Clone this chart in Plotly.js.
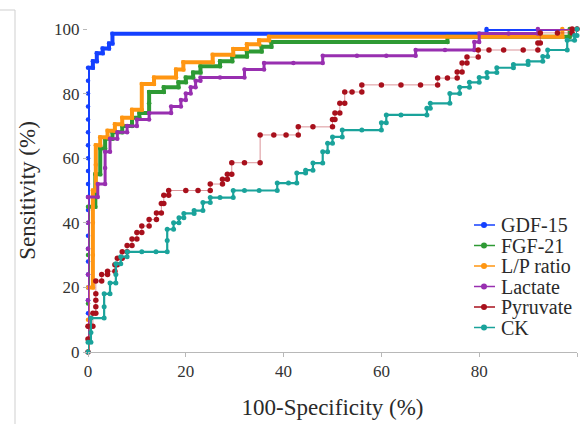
<!DOCTYPE html>
<html>
<head>
<meta charset="utf-8">
<script src="https://cdn.plot.ly/plotly-3.0.1.min.js"></script>
<style>html,body{margin:0;padding:0;background:#fff;}#chart{width:586px;height:424px;}</style>
</head>
<body>
<div id="chart"></div>
<script>
// ---- data ----
const seriesNames = ["GDF-15", "FGF-21", "L/P ratio", "Lactate", "Pyruvate", "CK"];
const xTickVals = [0, 20, 40, 60, 80, 100];
const yTickVals = [0, 20, 40, 60, 80, 100];

const gdfX = [0,0,0,0,0,0,0,0,0,0,0,0,0,0,0,0,0,0,0,0,0,0,0,1,1,1.8,1.8,3,3,4.3,4.3,5,5,81.5,81.5,100];
const gdfY = [0,4,8,12,16,20,24,28,32,36,40,44,48,52,56,60,64,68,72,76,80,84,88,88,90,90,92.5,92.5,94,94,95.5,95.5,98.5,98.5,100,100];

const fgfX = [0,0,0,0,1.5,1.5,2.5,2.5,3.5,3.5,5,5,7,7,9,9,10.5,10.5,12.5,12.5,12.5,15.5,15.5,18.5,18.5,20,20,21.5,21.5,23,23,27,27,29.5,29.5,32.5,32.5,35.5,35.5,37.5,37.5,73.5,73.5,98.5,98.5,100];
const fgfY = [0,15,30,45,45,55,55,63,63,66,66,68,68,70,70,72.5,72.5,74,74,77,80.5,80.5,82,82,83.5,83.5,85,85,86.5,86.5,88.5,88.5,90,90,91.5,91.5,93,93,94.5,94.5,96,96,97.6,97.6,100,100];

const lpX = [0,0,0,1,1,1,1,1.6,1.6,1.6,2.5,2.5,4,4,5.5,5.5,7,7,9,9,11,11,13.5,13.5,18,18,19.5,19.5,25.5,25.5,29.7,29.7,32.5,32.5,35,35,37,37,97,97,100];
const lpY = [0,10,20,20,30,40,50,50,58,64,64,66.5,66.5,68.5,68.5,70.5,70.5,72.5,72.5,75,75,83,83,85,85,87.5,87.5,89.7,89.7,92,92,93.8,93.8,95.3,95.3,96.5,96.5,97.6,97.6,100,100];

const lacX = [0,0,0,0,0,0,0,2,2,3.5,3.5,3.5,4.5,4.5,6,6,8,8,10,10,12.5,12.5,17,17,19,19,20,20,21,21,22,22,23,23,27,32,32,36,36,42,48,48,55,61,67,67,73,79,79,80,80,86,92,92,100];
const lacY = [0,8,16,24,32,40,48,48,52,52,57,62,62,66,66,68,68,70,70,72,72,74,74,76,76,78,78,80,80,82,82,84,84,85,85,85,87.5,87.5,89.5,89.5,89.5,91.7,91.7,91.7,91.7,93.5,93.5,93.5,96,96,98.6,98.6,98.6,100,100];

const pyrX = [0,0,0,1,1,1.6,1.6,1.6,1.6,1.6,2.8,2.8,4,4,5.5,5.5,6,6,7,7,8,8,9,9,10,10,11,11,12.5,12.5,14,14,15,15,15.5,15.5,16.5,16.5,20,22.5,25,25,27.5,27.5,28.5,28.5,29.4,29.4,32,35.2,35.2,38,40.5,43,43,46,50,50,50.5,50.5,51.5,51.5,52.5,52.5,54,56,56,60,64,68,71.5,71.5,73.5,75.5,75.5,76.5,76.5,77.5,77.5,79.8,79.8,82,85,89,92,92,92.5,92.5,96,99,99,100];
const pyrY = [0,4,8,8,12,12,14,16,18,22,22,24,24,25,25,27,27,29,29,31,31,33,33,35,35,37,37,39,39,41,41,43,43,46,46,48.5,48.5,50,50,50,50,52,52,53.5,53.5,55,55,58.6,58.6,58.6,67.2,67.2,67.2,67.2,69.7,69.7,69.7,72,72,74,74,77,77,80.5,80.5,80.5,82.7,82.7,82.7,82.7,82.7,84.8,84.8,84.8,86.7,86.7,89.5,89.5,91.3,91.3,93.5,93.5,93.5,93.5,93.5,95.7,95.7,98.8,98.8,98.8,100,100];

const ckX = [0,0,0.6,0.6,0.6,3.3,3.3,3.3,4.5,4.5,5.7,5.7,5.7,6.7,6.7,8,8,11,13.9,16.2,16.2,16.2,17.5,17.5,18.6,18.6,19.6,19.6,21.7,21.7,23.5,23.5,25,25,27,29.7,29.7,32,35,38.7,38.7,41,42.7,42.7,44.5,44.5,46,46,48,48,49,49,50,50,52,52,56,60,60,61,61,64,69.3,69.3,70,70,74,74,76,76,78,78,80,80,81.6,81.6,83.6,83.6,87,87,90,90,93,93,94,94,98,98,99.5,99.5,100,100];
const ckY = [0,3,3,6,10.5,10.5,14,18,18,21.4,21.4,24,27.3,27.3,29.5,29.5,31,31,31,31,34.5,38,38,40,40,41.6,41.6,42.9,42.9,43.8,43.8,46.3,46.3,47.8,47.8,47.8,50,50,50,50,52.3,52.3,52.3,55.4,55.4,56.3,56.3,58.5,58.5,62,62,64.6,64.6,66.6,66.6,68.7,68.7,68.7,71,71,73.4,73.4,73.4,75.5,75.5,77,77,80,80,82,82,83.5,83.5,85,85,86.5,86.5,88,88,89,89,90,90,91.5,91.5,93.5,93.5,96.5,96.5,98,98,100];

// ---- styles ----
const colors = ["#1440ff", "#2e9a34", "#ff9612", "#982fb0", "#a8101c", "#1aa39b"];
const lineColors = ["#1440ff", "#2e9a34", "#ff9612", "#982fb0", "rgba(190,60,70,0.55)", "#1aa39b"];
const lineWidths = [4, 4, 4, 3, 1, 2.2];
const markerSizes = [4.5, 4.5, 4.5, 4.5, 5.5, 5];
const xs = [gdfX, fgfX, lpX, lacX, pyrX, ckX];
const ys = [gdfY, fgfY, lpY, lacY, pyrY, ckY];

const SERIF = "Liberation Serif, Times New Roman, serif";
const W = 586, H = 424, ML = 88, MR = 9, MT = 29, MB = 72;
const PW = W - ML - MR, PH = H - MT - MB;
const px2x = p => (p - ML) / PW;
const py2y = p => (H - MB - p) / PH;

const traces = seriesNames.map((name, i) => ({
  type: "scatter", mode: "lines+markers", name: name,
  x: xs[i], y: ys[i],
  line: {color: lineColors[i], width: lineWidths[i]},
  marker: {color: colors[i], size: markerSizes[i]},
  cliponaxis: false, showlegend: false
}));

// manual legend (tight rows like the reference)
const legendRowsPx = [225, 245.5, 266, 286.5, 307, 327.5];
const shapes = [];
const annotations = [];
seriesNames.forEach((name, i) => {
  const yy = py2y(legendRowsPx[i]);
  shapes.push({type: "line", xref: "paper", yref: "paper", x0: px2x(474), x1: px2x(495), y0: yy, y1: yy,
    line: {color: lineColors[i] === colors[i] ? colors[i] : colors[i], width: 1.5}});
  shapes.push({type: "circle", xref: "paper", yref: "paper", x0: px2x(481), x1: px2x(487),
    y0: yy - 3 / PH, y1: yy + 3 / PH, fillcolor: colors[i], line: {width: 0}});
  annotations.push({xref: "paper", yref: "paper", x: px2x(499), y: yy, xanchor: "left", yanchor: "middle",
    text: name, showarrow: false, font: {family: SERIF, size: 20, color: "#2a2a2a"}});
});
// left panel border
shapes.push({type: "path", xref: "paper", yref: "paper",
  path: "M " + px2x(0) + " " + py2y(10) + " L " + px2x(15) + " " + py2y(10) + " L " + px2x(15) + " " + py2y(424),
  line: {color: "#cfcfcf", width: 1}});

const layout = {
  width: W, height: H,
  margin: {l: ML, r: MR, t: MT, b: MB, pad: 0},
  paper_bgcolor: "#ffffff", plot_bgcolor: "#ffffff",
  showlegend: false,
  xaxis: {
    range: [0, 100], tickvals: xTickVals, ticktext: xTickVals.map(String),
    showgrid: false, zeroline: false, showline: true, linecolor: "#b8b8b8", linewidth: 1,
    ticks: "outside", ticklen: 4, tickcolor: "#b8b8b8",
    tickfont: {family: SERIF, size: 17, color: "#333"},
    title: {text: "100-Specificity (%)", font: {family: SERIF, size: 23, color: "#2a2a2a"}, standoff: 18}
  },
  yaxis: {
    range: [0, 100], tickvals: yTickVals, ticktext: yTickVals.map(String),
    showgrid: false, zeroline: false, showline: false,
    ticks: "outside", ticklen: 4, tickcolor: "#b8b8b8",
    tickfont: {family: SERIF, size: 17, color: "#333"},
    title: {text: "Sensitivity (%)", font: {family: SERIF, size: 23, color: "#2a2a2a"}, standoff: 12}
  },
  shapes: shapes,
  annotations: annotations
};

Plotly.newPlot("chart", traces, layout, {staticPlot: true, displayModeBar: false});
</script>
</body>
</html>
